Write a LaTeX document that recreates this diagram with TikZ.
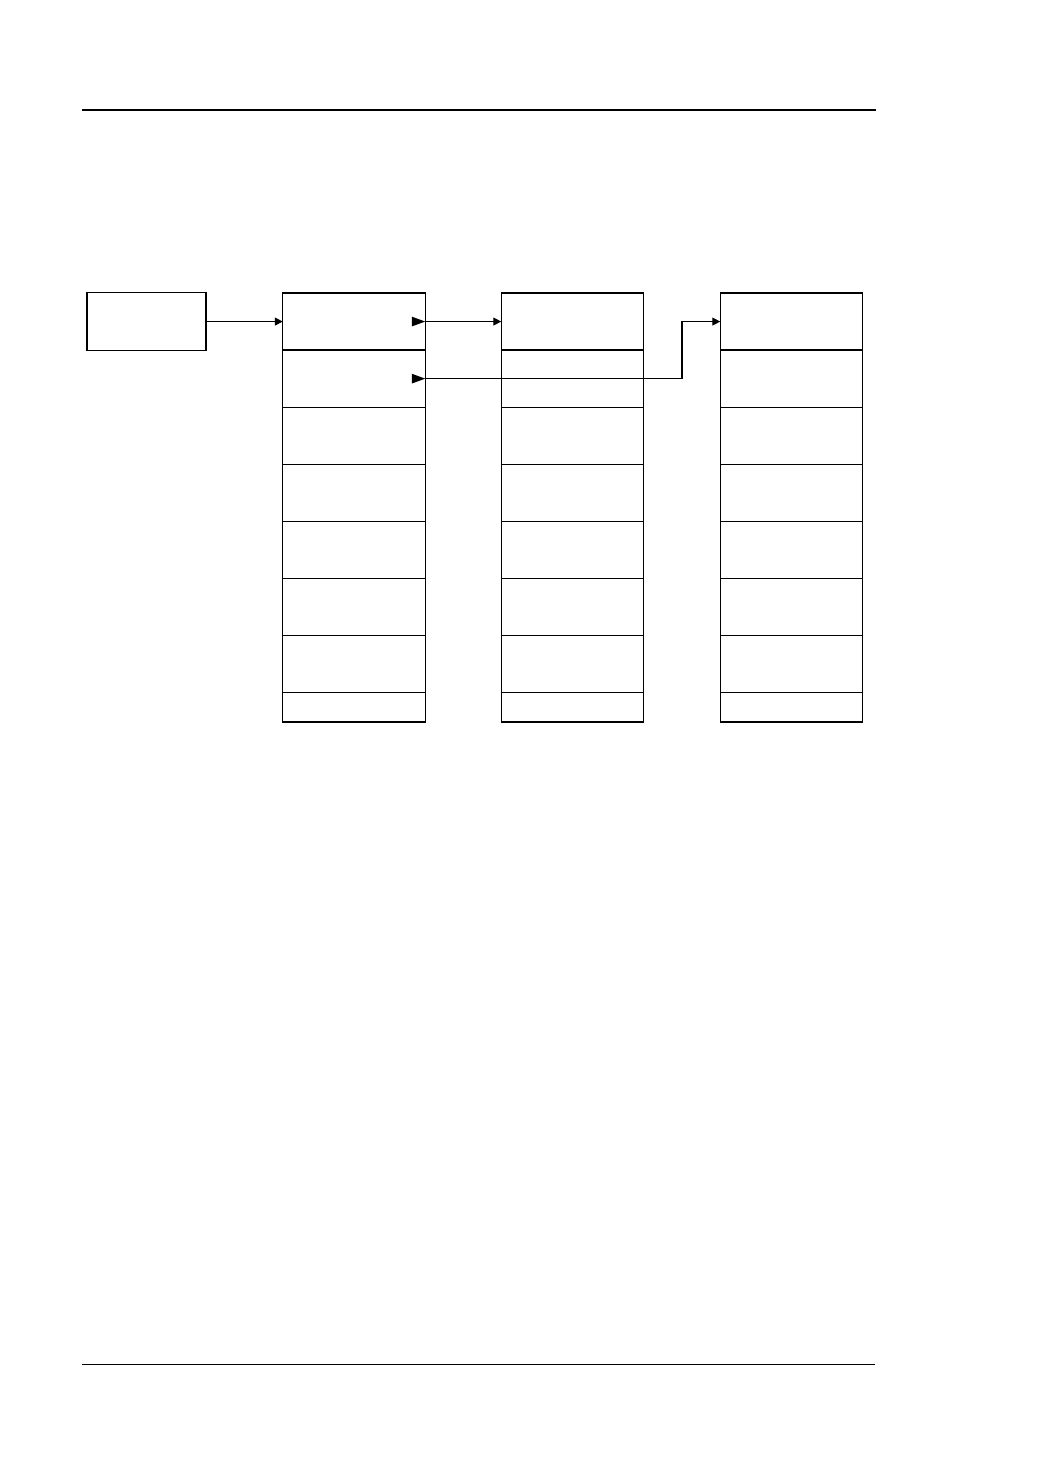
\documentclass[tikz,border=0pt]{standalone}
\usetikzlibrary{arrows.meta}
\begin{document}
\begin{tikzpicture}[x=0.2mm,y=-0.2mm,line width=0.25mm]\tikzstyle{every node}=[rectangle,draw,minimum width=28.5mm,minimum height=11.42mm,inner sep=0pt,outer sep=0pt]
\tikzstyle{small}=[-{Triangle[length=1.6mm,width=1.6mm]}]
\tikzstyle{big}=[-{Triangle[length=2.7mm,width=1.9mm]}]
\useasboundingbox (0,0) rectangle (1043,1474);
\draw[line width=0.4mm] (82,110) -- (876,110);
\draw[line width=0.2mm] (82,1364) -- (875,1364);
\node[minimum width=23.8mm,minimum height=11.6mm] at (146.5,321.55) (src) {};
\foreach \c/\x in {1/354,2/572.5,3/791.5}{
  \foreach \r in {1,...,7}
    \node at (\x,{264.45+57.1*\r}) (c\c-\r) {};
  \node[minimum height=5.86mm] at (\x,707.35) (c\c-8) {};
}
\coordinate (bend) at (682,378.65);
\draw[small] (src) -- (c1-1);
\draw[big] ([xshift=-2.7mm]c1-1.east) -- (c1-1.east);
\draw[small] (c1-1.east) -- (c2-1.west);
\draw[big] ([xshift=-2.7mm]c1-2.east) -- (c1-2.east);
\draw[small] (c1-2.east) -- (bend) |- (c3-1.west);
\end{tikzpicture}
\end{document}
